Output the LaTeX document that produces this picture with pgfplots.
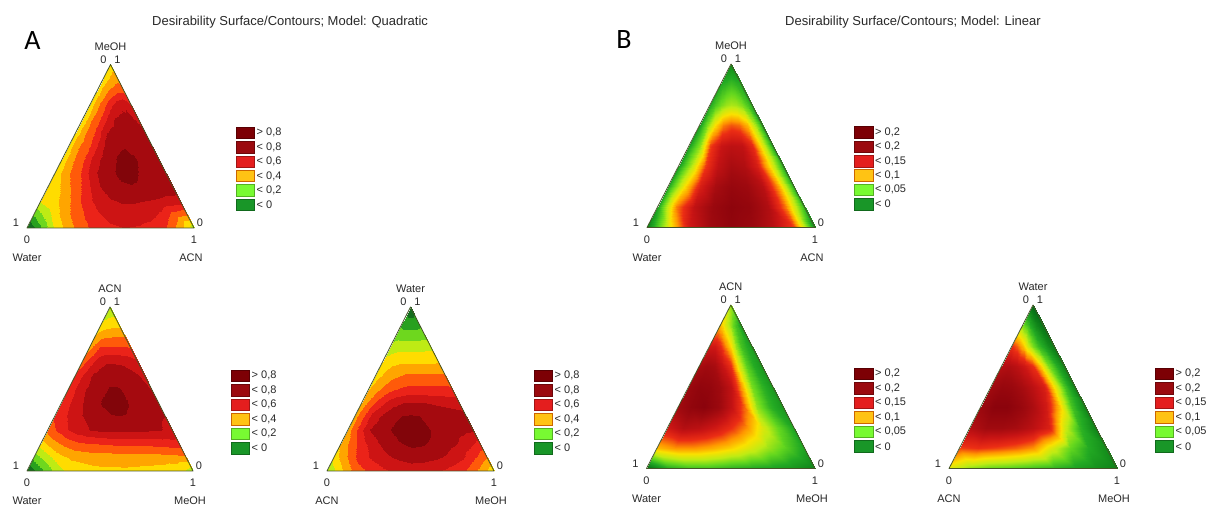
\documentclass[border=0pt]{standalone}
\usepackage{pgfplots}
\pgfplotsset{compat=1.18}
\usepackage{fontspec}
\setmainfont{Liberation Sans}
\newfontfamily\letterfont{Carlito}

\definecolor{tri}{RGB}{70,85,40}
\definecolor{txt}{RGB}{40,40,40}
\definecolor{L1}{RGB}{125,0,5}
\definecolor{L2}{RGB}{155,10,15}
\definecolor{L3}{RGB}{228,30,30}
\definecolor{L4}{RGB}{255,195,20}
\definecolor{L5}{RGB}{120,250,50}
\definecolor{L6}{RGB}{25,150,40}

\pgfplotsset{
 colormap={quadA}{rgb255(0cm)=(20,110,30); rgb255(1cm)=(40,160,30); rgb255(2cm)=(110,215,30); rgb255(3cm)=(190,235,20); rgb255(4cm)=(255,220,0); rgb255(5cm)=(255,165,0); rgb255(6cm)=(255,90,10); rgb255(7cm)=(235,35,25); rgb255(8cm)=(205,20,20); rgb255(9cm)=(165,10,15); rgb255(10cm)=(130,5,10); rgb255(11cm)=(130,5,10)},
 colormap={linB}{rgb255(0cm)=(0,100,20); rgb255(1cm)=(15,130,25); rgb255(2cm)=(35,170,35); rgb255(3cm)=(100,215,30); rgb255(4cm)=(190,235,20); rgb255(5cm)=(250,225,0); rgb255(6cm)=(255,150,0); rgb255(7cm)=(235,45,20); rgb255(8cm)=(200,20,20); rgb255(9cm)=(160,10,15); rgb255(10cm)=(130,0,10)},
 tern/.style={hide axis, scale only axis, anchor=south west, xmin=0, xmax=1, ymin=0, ymax=1, clip=false},
 ternA/.style={tern, colormap name=quadA, colormap access=piecewise constant, point meta min=0, point meta max=1.1},
 ternB/.style={tern, colormap name=linB, point meta min=0, point meta max=1},
 surfA/.style={surf, shader=interp, mesh/rows=13, mesh/cols=13, point meta=\thisrow{v}},
 surfB/.style={surf, shader=interp, mesh/rows=9, mesh/cols=9, point meta=\thisrow{v}},
 outline/.style={draw=tri, line width=0.8pt, mark=none, line join=round, line cap=round},
 /pgfplots/table/tabA/.style={row sep=\\, x expr={\thisrow{i}/24+\thisrow{j}/12*(1-\thisrow{i}/12)}, y expr={\thisrow{i}/12}},
 /pgfplots/table/tabB/.style={row sep=\\, x expr={\thisrow{i}/16+\thisrow{j}/8*(1-\thisrow{i}/8)}, y expr={\thisrow{i}/8}},
}

\newcommand\ternlab[8]{%
 \node[lab] at (#4,#5+18) {#6};
 \node[lab] at (#4-7,#5+5) {0};
 \node[lab] at (#4+7,#5+5) {1};
 \node[lab] at (#1-11,#3+5) {1};
 \node[lab] at (#1,#3-12) {0};
 \node[lab] at (#1,#3-30) {#7};
 \node[lab] at (#2+6,#3+5) {0};
 \node[lab] at (#2,#3-12) {1};
 \node[lab] at (#2-3,#3-30) {#8};
}
\newcommand\legbox[9]{%
 \filldraw[fill=L1,draw=L1!70!black,line width=0.4pt] (#1,#2-5.75) rectangle ++(18.5,11.5); \node[lab,anchor=west] at (#1+20.5,#2) {#4};
 \filldraw[fill=L2,draw=L2!70!black,line width=0.4pt] (#1,#2-#3-5.75) rectangle ++(18.5,11.5); \node[lab,anchor=west] at (#1+20.5,#2-#3) {#5};
 \filldraw[fill=L3,draw=L3!70!black,line width=0.4pt] (#1,#2-2*#3-5.75) rectangle ++(18.5,11.5); \node[lab,anchor=west] at (#1+20.5,#2-2*#3) {#6};
 \filldraw[fill=L4,draw=orange!80!black,line width=0.4pt] (#1,#2-3*#3-5.75) rectangle ++(18.5,11.5); \node[lab,anchor=west] at (#1+20.5,#2-3*#3) {#7};
 \filldraw[fill=L5,draw=L5!70!black,line width=0.4pt] (#1,#2-4*#3-5.75) rectangle ++(18.5,11.5); \node[lab,anchor=west] at (#1+20.5,#2-4*#3) {#8};
 \filldraw[fill=L6,draw=L6!70!black,line width=0.4pt] (#1,#2-5*#3-5.75) rectangle ++(18.5,11.5); \node[lab,anchor=west] at (#1+20.5,#2-5*#3) {#9};
}

\begin{document}
\begin{tikzpicture}[x=1pt,y=1pt,lab/.style={font=\fontsize{11}{13}\selectfont, text=txt, inner sep=0pt}]
\path[use as bounding box] (0,0) rectangle (1209,505);

% ---------------- Panel A ----------------
\node[font=\letterfont\fontsize{28}{30}\selectfont] at (32.5,464) {A};
\node[font=\fontsize{13}{15}\selectfont, text=txt, anchor=west, inner sep=0pt] at (152,483.3) {Desirability Surface/Contours; Model: Quadratic};

% A1
\begin{axis}[ternA, at={(27pt,277pt)}, width=167pt, height=163.5pt]
\addplot[surfA] table[tabA] {j i v\\
0 0 0.00\\ 1 0 0.19\\ 2 0 0.42\\ 3 0 0.56\\ 4 0 0.67\\ 5 0 0.74\\ 6 0 0.78\\ 7 0 0.80\\ 8 0 0.79\\ 9 0 0.76\\ 10 0 0.70\\ 11 0 0.55\\ 12 0 0.33\\
0 1 0.22\\ 1 1 0.36\\ 2 1 0.50\\ 3 1 0.62\\ 4 1 0.71\\ 5 1 0.79\\ 6 1 0.84\\ 7 1 0.86\\ 8 1 0.86\\ 9 1 0.84\\ 10 1 0.78\\ 11 1 0.66\\ 12 1 0.62\\
0 2 0.41\\ 1 2 0.46\\ 2 2 0.54\\ 3 2 0.66\\ 4 2 0.76\\ 5 2 0.85\\ 6 2 0.89\\ 7 2 0.91\\ 8 2 0.91\\ 9 2 0.90\\ 10 2 0.89\\ 11 2 0.88\\ 12 2 0.88\\
0 3 0.43\\ 1 3 0.48\\ 2 3 0.59\\ 3 3 0.68\\ 4 3 0.80\\ 5 3 0.90\\ 6 3 0.95\\ 7 3 0.98\\ 8 3 0.99\\ 9 3 0.97\\ 10 3 0.95\\ 11 3 0.93\\ 12 3 0.92\\
0 4 0.45\\ 1 4 0.53\\ 2 4 0.64\\ 3 4 0.72\\ 4 4 0.87\\ 5 4 0.93\\ 6 4 0.97\\ 7 4 1.03\\ 8 4 1.05\\ 9 4 1.00\\ 10 4 0.96\\ 11 4 0.94\\ 12 4 0.93\\
0 5 0.45\\ 1 5 0.55\\ 2 5 0.65\\ 3 5 0.72\\ 4 5 0.85\\ 5 5 0.92\\ 6 5 0.96\\ 7 5 1.02\\ 8 5 1.06\\ 9 5 1.01\\ 10 5 0.97\\ 11 5 0.94\\ 12 5 0.93\\
0 6 0.45\\ 1 6 0.56\\ 2 6 0.64\\ 3 6 0.70\\ 4 6 0.80\\ 5 6 0.90\\ 6 6 0.94\\ 7 6 0.97\\ 8 6 0.99\\ 9 6 0.98\\ 10 6 0.95\\ 11 6 0.93\\ 12 6 0.93\\
0 7 0.46\\ 1 7 0.53\\ 2 7 0.62\\ 3 7 0.68\\ 4 7 0.77\\ 5 7 0.89\\ 6 7 0.92\\ 7 7 0.94\\ 8 7 0.95\\ 9 7 0.95\\ 10 7 0.94\\ 11 7 0.93\\ 12 7 0.92\\
0 8 0.46\\ 1 8 0.50\\ 2 8 0.60\\ 3 8 0.66\\ 4 8 0.71\\ 5 8 0.79\\ 6 8 0.86\\ 7 8 0.91\\ 8 8 0.92\\ 9 8 0.93\\ 10 8 0.92\\ 11 8 0.90\\ 12 8 0.87\\
0 9 0.45\\ 1 9 0.50\\ 2 9 0.56\\ 3 9 0.62\\ 4 9 0.67\\ 5 9 0.72\\ 6 9 0.77\\ 7 9 0.82\\ 8 9 0.86\\ 9 9 0.88\\ 10 9 0.89\\ 11 9 0.86\\ 12 9 0.78\\
0 10 0.45\\ 1 10 0.48\\ 2 10 0.52\\ 3 10 0.55\\ 4 10 0.58\\ 5 10 0.61\\ 6 10 0.63\\ 7 10 0.65\\ 8 10 0.67\\ 9 10 0.69\\ 10 10 0.70\\ 11 10 0.70\\ 12 10 0.68\\
0 11 0.45\\ 1 11 0.46\\ 2 11 0.47\\ 3 11 0.48\\ 4 11 0.49\\ 5 11 0.50\\ 6 11 0.51\\ 7 11 0.52\\ 8 11 0.53\\ 9 11 0.54\\ 10 11 0.55\\ 11 11 0.55\\ 12 11 0.55\\
0 12 0.45\\ 1 12 0.45\\ 2 12 0.45\\ 3 12 0.45\\ 4 12 0.45\\ 5 12 0.45\\ 6 12 0.45\\ 7 12 0.45\\ 8 12 0.45\\ 9 12 0.45\\ 10 12 0.45\\ 11 12 0.45\\ 12 12 0.45\\
};
\addplot[outline] coordinates {(0,0) (1,0) (0.5,1) (0,0)};
\end{axis}
\ternlab{27}{194}{277}{110.5}{440.5}{MeOH}{Water}{ACN}
\legbox{236}{372.3}{14.4}{> 0,8}{< 0,8}{< 0,6}{< 0,4}{< 0,2}{< 0}

% A2
\begin{axis}[ternA, at={(27pt,34pt)}, width=166pt, height=164pt]
\addplot[surfA] table[tabA] {j i v\\
0 0 0.00\\ 1 0 0.17\\ 2 0 0.32\\ 3 0 0.43\\ 4 0 0.45\\ 5 0 0.47\\ 6 0 0.48\\ 7 0 0.48\\ 8 0 0.47\\ 9 0 0.46\\ 10 0 0.45\\ 11 0 0.42\\ 12 0 0.35\\
0 1 0.25\\ 1 1 0.36\\ 2 1 0.47\\ 3 1 0.52\\ 4 1 0.54\\ 5 1 0.55\\ 6 1 0.55\\ 7 1 0.56\\ 8 1 0.56\\ 9 1 0.56\\ 10 1 0.56\\ 11 1 0.57\\ 12 1 0.58\\
0 2 0.45\\ 1 2 0.55\\ 2 2 0.62\\ 3 2 0.67\\ 4 2 0.69\\ 5 2 0.70\\ 6 2 0.71\\ 7 2 0.72\\ 8 2 0.72\\ 9 2 0.72\\ 10 2 0.73\\ 11 2 0.74\\ 12 2 0.75\\
0 3 0.64\\ 1 3 0.72\\ 2 3 0.80\\ 3 3 0.86\\ 4 3 0.90\\ 5 3 0.92\\ 6 3 0.93\\ 7 3 0.93\\ 8 3 0.93\\ 9 3 0.92\\ 10 3 0.91\\ 11 3 0.90\\ 12 3 0.88\\
0 4 0.72\\ 1 4 0.78\\ 2 4 0.85\\ 3 4 0.90\\ 4 4 0.94\\ 5 4 0.97\\ 6 4 0.99\\ 7 4 1.00\\ 8 4 0.99\\ 9 4 0.96\\ 10 4 0.93\\ 11 4 0.91\\ 12 4 0.90\\
0 5 0.73\\ 1 5 0.80\\ 2 5 0.87\\ 3 5 0.92\\ 4 5 0.96\\ 5 5 1.01\\ 6 5 1.05\\ 7 5 1.05\\ 8 5 1.01\\ 9 5 0.97\\ 10 5 0.94\\ 11 5 0.92\\ 12 5 0.90\\
0 6 0.72\\ 1 6 0.80\\ 2 6 0.88\\ 3 6 0.92\\ 4 6 0.95\\ 5 6 0.98\\ 6 6 1.01\\ 7 6 1.01\\ 8 6 0.99\\ 9 6 0.96\\ 10 6 0.93\\ 11 6 0.91\\ 12 6 0.90\\
0 7 0.72\\ 1 7 0.78\\ 2 7 0.85\\ 3 7 0.91\\ 4 7 0.93\\ 5 7 0.95\\ 6 7 0.96\\ 7 7 0.96\\ 8 7 0.95\\ 9 7 0.94\\ 10 7 0.92\\ 11 7 0.90\\ 12 7 0.88\\
0 8 0.66\\ 1 8 0.72\\ 2 8 0.78\\ 3 8 0.83\\ 4 8 0.87\\ 5 8 0.89\\ 6 8 0.89\\ 7 8 0.89\\ 8 8 0.89\\ 9 8 0.88\\ 10 8 0.87\\ 11 8 0.85\\ 12 8 0.82\\
0 9 0.57\\ 1 9 0.62\\ 2 9 0.66\\ 3 9 0.72\\ 4 9 0.72\\ 5 9 0.72\\ 6 9 0.72\\ 7 9 0.72\\ 8 9 0.72\\ 9 9 0.72\\ 10 9 0.72\\ 11 9 0.71\\ 12 9 0.70\\
0 10 0.50\\ 1 10 0.52\\ 2 10 0.54\\ 3 10 0.55\\ 4 10 0.56\\ 5 10 0.56\\ 6 10 0.56\\ 7 10 0.57\\ 8 10 0.57\\ 9 10 0.57\\ 10 10 0.58\\ 11 10 0.58\\ 12 10 0.58\\
0 11 0.40\\ 1 11 0.41\\ 2 11 0.41\\ 3 11 0.42\\ 4 11 0.42\\ 5 11 0.42\\ 6 11 0.42\\ 7 11 0.43\\ 8 11 0.43\\ 9 11 0.43\\ 10 11 0.43\\ 11 11 0.43\\ 12 11 0.43\\
0 12 0.33\\ 1 12 0.33\\ 2 12 0.33\\ 3 12 0.33\\ 4 12 0.33\\ 5 12 0.33\\ 6 12 0.33\\ 7 12 0.33\\ 8 12 0.33\\ 9 12 0.33\\ 10 12 0.33\\ 11 12 0.33\\ 12 12 0.33\\
};
\addplot[outline] coordinates {(0,0) (1,0) (0.5,1) (0,0)};
\end{axis}
\ternlab{27}{193}{34}{110}{198}{ACN}{Water}{MeOH}
\legbox{231}{129.3}{14.46}{> 0,8}{< 0,8}{< 0,6}{< 0,4}{< 0,2}{< 0}

% A3
\begin{axis}[ternA, at={(327pt,34pt)}, width=167pt, height=164pt]
\addplot[surfA] table[tabA] {j i v\\
0 0 0.30\\ 1 0 0.48\\ 2 0 0.64\\ 3 0 0.72\\ 4 0 0.78\\ 5 0 0.82\\ 6 0 0.85\\ 7 0 0.84\\ 8 0 0.81\\ 9 0 0.76\\ 10 0 0.70\\ 11 0 0.57\\ 12 0 0.42\\
0 1 0.45\\ 1 1 0.60\\ 2 1 0.74\\ 3 1 0.82\\ 4 1 0.88\\ 5 1 0.92\\ 6 1 0.94\\ 7 1 0.94\\ 8 1 0.92\\ 9 1 0.88\\ 10 1 0.82\\ 11 1 0.72\\ 12 1 0.60\\
0 2 0.52\\ 1 2 0.66\\ 2 2 0.78\\ 3 2 0.88\\ 4 2 0.94\\ 5 2 0.99\\ 6 2 1.02\\ 7 2 1.01\\ 8 2 0.98\\ 9 2 0.94\\ 10 2 0.90\\ 11 2 0.84\\ 12 2 0.76\\
0 3 0.56\\ 1 3 0.72\\ 2 3 0.90\\ 3 3 0.95\\ 4 3 1.00\\ 5 3 1.04\\ 6 3 1.06\\ 7 3 1.04\\ 8 3 1.00\\ 9 3 0.97\\ 10 3 0.95\\ 11 3 0.93\\ 12 3 0.92\\
0 4 0.56\\ 1 4 0.70\\ 2 4 0.85\\ 3 4 0.92\\ 4 4 0.97\\ 5 4 1.00\\ 6 4 1.01\\ 7 4 1.00\\ 8 4 0.98\\ 9 4 0.96\\ 10 4 0.95\\ 11 4 0.94\\ 12 4 0.93\\
0 5 0.54\\ 1 5 0.64\\ 2 5 0.74\\ 3 5 0.82\\ 4 5 0.87\\ 5 5 0.90\\ 6 5 0.91\\ 7 5 0.91\\ 8 5 0.90\\ 9 5 0.89\\ 10 5 0.88\\ 11 5 0.87\\ 12 5 0.86\\
0 6 0.50\\ 1 6 0.56\\ 2 6 0.62\\ 3 6 0.67\\ 4 6 0.70\\ 5 6 0.72\\ 6 6 0.73\\ 7 6 0.73\\ 8 6 0.73\\ 9 6 0.73\\ 10 6 0.73\\ 11 6 0.73\\ 12 6 0.72\\
0 7 0.46\\ 1 7 0.50\\ 2 7 0.54\\ 3 7 0.57\\ 4 7 0.59\\ 5 7 0.61\\ 6 7 0.62\\ 7 7 0.62\\ 8 7 0.62\\ 9 7 0.62\\ 10 7 0.62\\ 11 7 0.62\\ 12 7 0.62\\
0 8 0.43\\ 1 8 0.45\\ 2 8 0.47\\ 3 8 0.48\\ 4 8 0.49\\ 5 8 0.49\\ 6 8 0.49\\ 7 8 0.49\\ 8 8 0.49\\ 9 8 0.49\\ 10 8 0.49\\ 11 8 0.49\\ 12 8 0.50\\
0 9 0.35\\ 1 9 0.36\\ 2 9 0.37\\ 3 9 0.37\\ 4 9 0.37\\ 5 9 0.37\\ 6 9 0.37\\ 7 9 0.37\\ 8 9 0.37\\ 9 9 0.37\\ 10 9 0.38\\ 11 9 0.38\\ 12 9 0.38\\
0 10 0.25\\ 1 10 0.25\\ 2 10 0.24\\ 3 10 0.24\\ 4 10 0.24\\ 5 10 0.24\\ 6 10 0.24\\ 7 10 0.24\\ 8 10 0.24\\ 9 10 0.24\\ 10 10 0.25\\ 11 10 0.25\\ 12 10 0.26\\
0 11 0.15\\ 1 11 0.14\\ 2 11 0.13\\ 3 11 0.12\\ 4 11 0.12\\ 5 11 0.12\\ 6 11 0.12\\ 7 11 0.12\\ 8 11 0.12\\ 9 11 0.12\\ 10 11 0.13\\ 11 11 0.14\\ 12 11 0.14\\
0 12 0.03\\ 1 12 0.03\\ 2 12 0.03\\ 3 12 0.03\\ 4 12 0.03\\ 5 12 0.03\\ 6 12 0.03\\ 7 12 0.03\\ 8 12 0.03\\ 9 12 0.03\\ 10 12 0.03\\ 11 12 0.03\\ 12 12 0.03\\
};
\addplot[outline] coordinates {(0,0) (1,0) (0.5,1) (0,0)};
\end{axis}
\ternlab{327}{494}{34}{410.5}{198}{Water}{ACN}{MeOH}
\legbox{534}{129.3}{14.46}{> 0,8}{< 0,8}{< 0,6}{< 0,4}{< 0,2}{< 0}

% ---------------- Panel B ----------------
\node[font=\letterfont\fontsize{28}{30}\selectfont] at (624,465) {B};
\node[font=\fontsize{13}{15}\selectfont, text=txt, anchor=west, inner sep=0pt] at (785,483.3) {Desirability Surface/Contours; Model: Linear};

% B1
\begin{axis}[ternB, at={(647pt,277.5pt)}, width=168pt, height=163.5pt]
\addplot[surfB] table[tabB] {j i v\\
0 0 0.10\\ 1 0 0.45\\ 2 0 0.78\\ 3 0 0.90\\ 4 0 0.95\\ 5 0 0.92\\ 6 0 0.84\\ 7 0 0.68\\ 8 0 0.12\\
0 1 0.20\\ 1 1 0.62\\ 2 1 0.82\\ 3 1 0.92\\ 4 1 0.96\\ 5 1 0.94\\ 6 1 0.86\\ 7 1 0.62\\ 8 1 0.20\\
0 2 0.20\\ 1 2 0.50\\ 2 2 0.76\\ 3 2 0.88\\ 4 2 0.93\\ 5 2 0.91\\ 6 2 0.84\\ 7 2 0.60\\ 8 2 0.20\\
0 3 0.18\\ 1 3 0.40\\ 2 3 0.68\\ 3 3 0.82\\ 4 3 0.88\\ 5 3 0.86\\ 6 3 0.76\\ 7 3 0.50\\ 8 3 0.18\\
0 4 0.18\\ 1 4 0.35\\ 2 4 0.68\\ 3 4 0.80\\ 4 4 0.83\\ 5 4 0.82\\ 6 4 0.72\\ 7 4 0.45\\ 8 4 0.18\\
0 5 0.18\\ 1 5 0.32\\ 2 5 0.50\\ 3 5 0.62\\ 4 5 0.66\\ 5 5 0.64\\ 6 5 0.56\\ 7 5 0.38\\ 8 5 0.18\\
0 6 0.20\\ 1 6 0.26\\ 2 6 0.32\\ 3 6 0.36\\ 4 6 0.38\\ 5 6 0.37\\ 6 6 0.33\\ 7 6 0.27\\ 8 6 0.20\\
0 7 0.20\\ 1 7 0.21\\ 2 7 0.22\\ 3 7 0.23\\ 4 7 0.24\\ 5 7 0.23\\ 6 7 0.22\\ 7 7 0.21\\ 8 7 0.20\\
0 8 0.12\\ 1 8 0.12\\ 2 8 0.12\\ 3 8 0.12\\ 4 8 0.12\\ 5 8 0.12\\ 6 8 0.12\\ 7 8 0.12\\ 8 8 0.12\\
};
\addplot[outline] coordinates {(0,0) (1,0) (0.5,1) (0,0)};
\end{axis}
\ternlab{647}{815}{277.5}{731}{441}{MeOH}{Water}{ACN}
\legbox{854.5}{372.7}{14.35}{> 0,2}{< 0,2}{< 0,15}{< 0,1}{< 0,05}{< 0}

% B2
\begin{axis}[ternB, at={(646.5pt,36.5pt)}, width=168.5pt, height=163.5pt]
\addplot[surfB] table[tabB] {j i v\\
0 0 0.05\\ 1 0 0.20\\ 2 0 0.25\\ 3 0 0.25\\ 4 0 0.22\\ 5 0 0.20\\ 6 0 0.18\\ 7 0 0.15\\ 8 0 0.10\\
0 1 0.55\\ 1 1 0.60\\ 2 1 0.60\\ 3 1 0.57\\ 4 1 0.52\\ 5 1 0.45\\ 6 1 0.36\\ 7 1 0.28\\ 8 1 0.18\\
0 2 0.78\\ 1 2 0.85\\ 2 2 0.83\\ 3 2 0.78\\ 4 2 0.70\\ 5 2 0.60\\ 6 2 0.45\\ 7 2 0.30\\ 8 2 0.18\\
0 3 0.90\\ 1 3 0.95\\ 2 3 0.97\\ 3 3 0.92\\ 4 3 0.82\\ 5 3 0.65\\ 6 3 0.35\\ 7 3 0.22\\ 8 3 0.15\\
0 4 0.92\\ 1 4 0.95\\ 2 4 0.94\\ 3 4 0.90\\ 4 4 0.82\\ 5 4 0.60\\ 6 4 0.32\\ 7 4 0.22\\ 8 4 0.15\\
0 5 0.88\\ 1 5 0.90\\ 2 5 0.88\\ 3 5 0.80\\ 4 5 0.70\\ 5 5 0.45\\ 6 5 0.28\\ 7 5 0.20\\ 8 5 0.15\\
0 6 0.78\\ 1 6 0.78\\ 2 6 0.72\\ 3 6 0.62\\ 4 6 0.50\\ 5 6 0.35\\ 6 6 0.25\\ 7 6 0.20\\ 8 6 0.15\\
0 7 0.55\\ 1 7 0.50\\ 2 7 0.45\\ 3 7 0.40\\ 4 7 0.35\\ 5 7 0.30\\ 6 7 0.25\\ 7 7 0.20\\ 8 7 0.17\\
0 8 0.35\\ 1 8 0.35\\ 2 8 0.35\\ 3 8 0.35\\ 4 8 0.35\\ 5 8 0.35\\ 6 8 0.35\\ 7 8 0.35\\ 8 8 0.35\\
};
\addplot[outline] coordinates {(0,0) (1,0) (0.5,1) (0,0)};
\end{axis}
\ternlab{646.5}{815}{36.5}{730.7}{200}{ACN}{Water}{MeOH}
\legbox{854.5}{131.2}{14.5}{> 0,2}{< 0,2}{< 0,15}{< 0,1}{< 0,05}{< 0}

% B3
\begin{axis}[ternB, at={(949pt,36.5pt)}, width=168pt, height=163.5pt]
\addplot[surfB] table[tabB] {j i v\\
0 0 0.45\\ 1 0 0.35\\ 2 0 0.30\\ 3 0 0.28\\ 4 0 0.25\\ 5 0 0.22\\ 6 0 0.18\\ 7 0 0.14\\ 8 0 0.10\\
0 1 0.68\\ 1 1 0.70\\ 2 1 0.68\\ 3 1 0.65\\ 4 1 0.60\\ 5 1 0.45\\ 6 1 0.30\\ 7 1 0.20\\ 8 1 0.12\\
0 2 0.85\\ 1 2 0.90\\ 2 2 0.90\\ 3 2 0.88\\ 4 2 0.83\\ 5 2 0.75\\ 6 2 0.42\\ 7 2 0.22\\ 8 2 0.10\\
0 3 0.92\\ 1 3 0.97\\ 2 3 0.97\\ 3 3 0.93\\ 4 3 0.87\\ 5 3 0.78\\ 6 3 0.55\\ 7 3 0.25\\ 8 3 0.10\\
0 4 0.90\\ 1 4 0.93\\ 2 4 0.92\\ 3 4 0.88\\ 4 4 0.83\\ 5 4 0.76\\ 6 4 0.50\\ 7 4 0.25\\ 8 4 0.10\\
0 5 0.85\\ 1 5 0.86\\ 2 5 0.83\\ 3 5 0.78\\ 4 5 0.70\\ 5 5 0.52\\ 6 5 0.32\\ 7 5 0.20\\ 8 5 0.10\\
0 6 0.70\\ 1 6 0.65\\ 2 6 0.55\\ 3 6 0.42\\ 4 6 0.32\\ 5 6 0.24\\ 6 6 0.18\\ 7 6 0.12\\ 8 6 0.08\\
0 7 0.32\\ 1 7 0.28\\ 2 7 0.24\\ 3 7 0.20\\ 4 7 0.16\\ 5 7 0.12\\ 6 7 0.10\\ 7 7 0.07\\ 8 7 0.05\\
0 8 0.02\\ 1 8 0.02\\ 2 8 0.02\\ 3 8 0.02\\ 4 8 0.02\\ 5 8 0.02\\ 6 8 0.02\\ 7 8 0.02\\ 8 8 0.02\\
};
\addplot[outline] coordinates {(0,0) (1,0) (0.5,1) (0,0)};
\end{axis}
\ternlab{949}{1117}{36.5}{1033}{200}{Water}{ACN}{MeOH}
\legbox{1155}{131.2}{14.5}{> 0,2}{< 0,2}{< 0,15}{< 0,1}{< 0,05}{< 0}

\end{tikzpicture}
\end{document}
